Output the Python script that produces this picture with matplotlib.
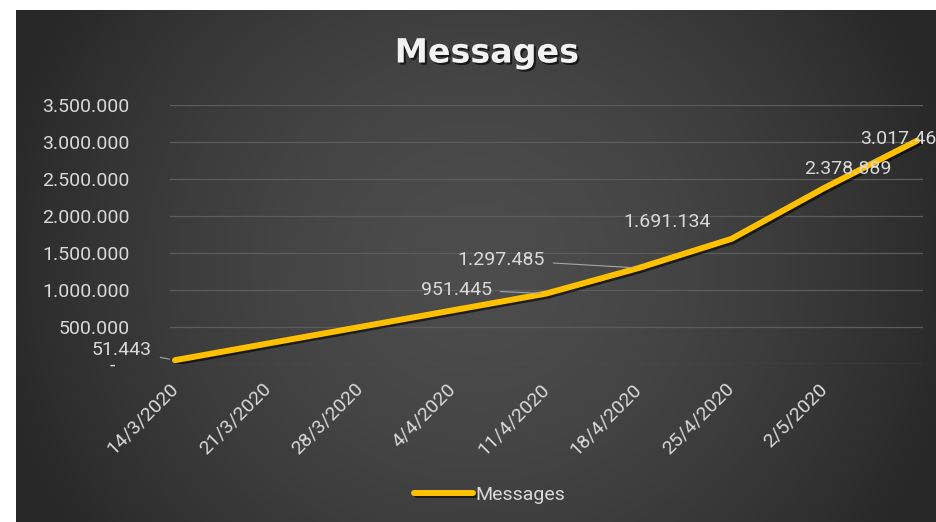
import numpy as np
import matplotlib
matplotlib.use('Agg')
import matplotlib.pyplot as plt
import matplotlib.dates as mdates
import matplotlib.patheffects as pe
from datetime import datetime, timedelta

# data
dates = ['2020-03-14', '2020-04-11', '2020-04-18', '2020-04-25', '2020-05-02', '2020-05-09']
messages = [51443, 951445, 1297485, 1691134, 2378889, 3017460]
label_text = ['51.443', '951.445', '1.297.485', '1.691.134', '2.378.889', '3.017.460']
tick_dates = ['2020-03-14', '2020-03-21', '2020-03-28', '2020-04-04',
              '2020-04-11', '2020-04-18', '2020-04-25', '2020-05-02']
tick_labels = ['14/3/2020', '21/3/2020', '28/3/2020', '4/4/2020',
               '11/4/2020', '18/4/2020', '25/4/2020', '2/5/2020']
y_ticks = [0, 500000, 1000000, 1500000, 2000000, 2500000, 3000000, 3500000]

x = [datetime.strptime(d, '%Y-%m-%d') for d in dates]
xt = [datetime.strptime(d, '%Y-%m-%d') for d in tick_dates]

W, H = 937, 522
fig = plt.figure(figsize=(W / 100, H / 100), dpi=100, facecolor='white')

# dark gradient background (white margin left and top)
bg = fig.add_axes([16 / W, 0, 1 - 16 / W, 512 / H])
gx = np.linspace(-1, 1, 400)
gy = np.linspace(-1, 1, 250)
GX, GY = np.meshgrid(gx, gy)
r = np.sqrt((GX * 0.95) ** 2 + (GY * 0.55) ** 2)
shade = 0.30 - 0.14 * np.clip(r, 0, 1) ** 1.6
bg.imshow(np.dstack([shade, shade, shade]), aspect='auto', extent=[0, 1, 0, 1])
bg.set_axis_off()

ax = fig.add_axes([170 / W, 158 / H, 753 / W, 259 / H])
ax.set_facecolor('none')

ln, = ax.plot(x, messages, color='#FFC000', lw=4.3, solid_capstyle='round',
              solid_joinstyle='round', label='Messages')
ln.set_path_effects([pe.SimpleLineShadow(offset=(1.5, -1.5), shadow_color='black', alpha=0.6),
                     pe.Normal()])

ax.set_ylim(0, 3500000)
ax.set_xlim(x[0] - timedelta(days=0.38), x[-1] + timedelta(days=0.45))
ax.set_yticks(y_ticks)
ax.set_yticklabels(['-   ' if v == 0 else f'{v:,}'.replace(',', '.') for v in y_ticks])
ax.set_xticks(xt)
ax.set_xticklabels(tick_labels, rotation=45, ha='right', va='center', rotation_mode='anchor')
ax.grid(axis='y', color='#5c5c5c', lw=0.9)
ax.set_axisbelow(True)
for s in ax.spines.values():
    s.set_visible(False)
ax.tick_params(axis='y', length=0, pad=29, labelsize=14, labelcolor='#d9d9d9')
ax.tick_params(axis='x', length=0, pad=16, labelsize=14, labelcolor='#d9d9d9')
for t in ax.get_xticklabels() + ax.get_yticklabels():
    t.set_fontfamily('Roboto')

# data labels (offsets in pixels)
offs = [(-23, 10, 'right'), (-54, 4, 'right'), (-94, 8, 'right'),
        (-65, 17, 'center'), (24, 19, 'center'), (-57, 2, 'left')]
leader = [True, True, True, False, False, False]
for xi, yi, txt, (dx, dy, ha), ld in zip(x, messages, label_text, offs, leader):
    ax.annotate(txt, (xi, yi), xytext=(dx, dy), textcoords='offset pixels',
                ha=ha, va='center', fontsize=14, color='#d9d9d9', family='Roboto',
                annotation_clip=False,
                arrowprops=dict(arrowstyle='-', color='#a6a6a6', lw=0.8,
                                shrinkA=4, shrinkB=4) if ld else None)

fig.text(487 / W, 1 - 53 / H, 'Messages', ha='center', va='center', fontsize=24,
         fontweight='bold', color='#f2f2f2', family='DejaVu Sans',
         path_effects=[pe.withSimplePatchShadow(offset=(1.5, -1.5), shadow_rgbFace='black', alpha=0.6)])

leg = fig.legend(handles=[ln], loc='center', bbox_to_anchor=(490 / W, 1 - 495 / H),
                 frameon=False, fontsize=14, handlelength=3.0, handletextpad=0.15,
                 prop={'family': 'Roboto', 'size': 14})
for t in leg.get_texts():
    t.set_color('#d9d9d9')

fig.savefig('out.png', dpi=100, facecolor='white')
